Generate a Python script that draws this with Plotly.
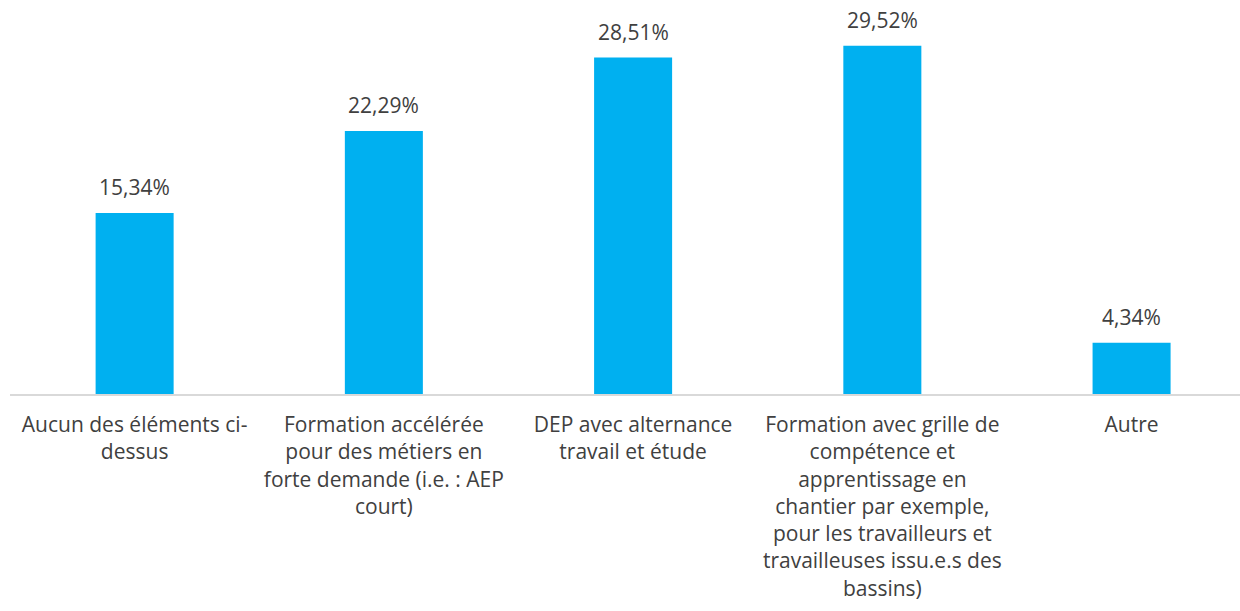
import plotly.graph_objects as go

categories = [
    "Aucun des éléments ci-<br>dessus",
    "Formation accélérée<br>pour des métiers en<br>forte demande (i.e. : AEP<br>court)",
    "DEP avec alternance<br>travail et étude",
    "Formation avec grille de<br>compétence et<br>apprentissage en<br>chantier par exemple,<br>pour les travailleurs et<br>travailleuses issu.e.s des<br>bassins)",
    "Autre",
]
values = [15.34, 22.29, 28.51, 29.52, 4.34]
value_labels = ["15,34%", "22,29%", "28,51%", "29,52%", "4,34%"]

FONT = "Open Sans"
TXT = "#404040"
FS = 21

fig = go.Figure(
    go.Bar(
        x=categories,
        y=values,
        marker=dict(color="#00B0F0", line=dict(width=0)),
        hoverinfo="skip",
    )
)

for c, v, t in zip(categories, values, value_labels):
    fig.add_annotation(
        x=c, y=v, text=t, showarrow=False,
        yanchor="middle", yshift=26,
        font=dict(family=FONT, size=FS, color=TXT),
    )

fig.update_layout(
    width=1240, height=611,
    margin=dict(l=10, r=0, t=8, b=217),
    paper_bgcolor="white", plot_bgcolor="white",
    bargap=0.687,
    showlegend=False,
    font=dict(family=FONT, size=FS, color=TXT),
)
fig.update_xaxes(
    type="category",
    range=[-0.5, 4.435],
    showline=True, linecolor="#D9D9D9", linewidth=1.5,
    showgrid=False, ticks="", ticklabelstandoff=11,
    tickfont=dict(family=FONT, size=FS, color=TXT),
    fixedrange=True,
)
fig.update_yaxes(
    range=[0, 32.71], visible=False, showgrid=False, zeroline=False,
    fixedrange=True,
)

fig.write_html(
    "out.html",
    config={"displayModeBar": False},
    post_script="document.body.style.margin='0';document.body.style.overflow='hidden';",
)
